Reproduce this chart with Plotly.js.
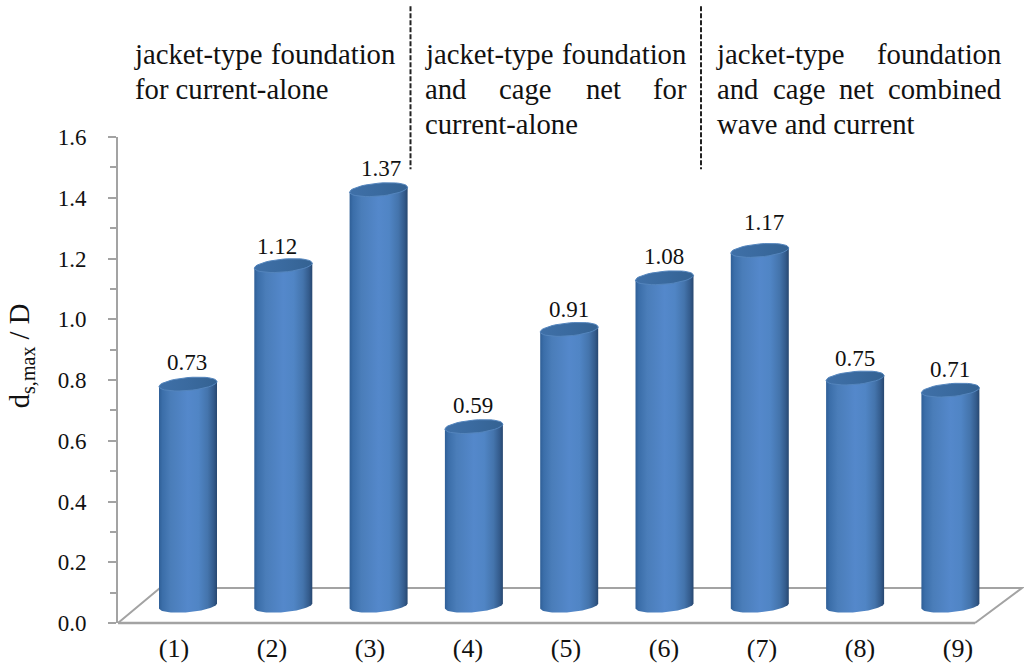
<!DOCTYPE html>
<html><head><meta charset="utf-8">
<script src="https://cdn.plot.ly/plotly-3.0.1.min.js"></script>
<style>html,body{margin:0;padding:0;background:#fff}</style></head>
<body><div id="chart" style="width:1024px;height:665px"></div>
<script>
const caseLabels = ["(1)","(2)","(3)","(4)","(5)","(6)","(7)","(8)","(9)"];
const depthRatio = [0.73,1.12,1.37,0.59,0.91,1.08,1.17,0.75,0.71];
const yTicks = [0,0.2,0.4,0.6,0.8,1.0,1.2,1.4,1.6];
const labelNudgeX = [-1,-6,2,-1,0,-1,4,0,0];
const labelNudgeY = [0,-2,0,0,-2,0,6,-2,-1];

const W=1024,H=665,L=118,R=1022,T=136.7,B=622.7;
const pxX=(B-T)/1.6;
const barStep=95.3, barX0=188, labelStep=98, labelX0=174, floorY=605.5;
const xr=[(L-barX0)/barStep,(R-barX0)/barStep];
const xr2=[(L-labelX0)/labelStep,(R-labelX0)/labelStep];
const y2low=-(B-floorY)/pxX;
const px=x=>(x-L)/(R-L), py=y=>(B-y)/(B-T);
const ids=caseLabels.map((_,i)=>i);

const a=29/barStep, b=6.5/pxX, tilt=2.5/pxX;
const N=40;
function arc(cx,cy,from,to){const xs=[],ys=[];
  for(let k=0;k<=N;k++){const t=from+(to-from)*k/N;
    xs.push(cx+a*Math.cos(t)); ys.push(cy+b*Math.sin(t)+tilt*Math.cos(t));}
  return [xs,ys];}

const bodyScale=[[0,'#2f5f97'],[0.06,'#3b6ea9'],[0.2,'#4a7db9'],[0.5,'#5488cb'],[0.68,'#5085c5'],[0.84,'#4474ac'],[0.94,'#345c8d'],[1,'#274770']];
const capScale=[[0,'#3f70a8'],[0.5,'#3a6a9f'],[1,'#346292']];

const traces=[{type:'bar',x:ids,y:depthRatio,xaxis:'x',yaxis:'y2',width:0.55,
  marker:{color:'#4a7db9',line:{width:0}},hoverinfo:'skip',showlegend:false}];
depthRatio.forEach((v,i)=>{
  const [bx,by]=arc(i,0,0,-Math.PI);
  traces.push({type:'scatter',mode:'lines',x:[i-a,i+a].concat(bx).concat([i-a]),
    y:[v-tilt,v+tilt].concat(by).concat([v-tilt]),xaxis:'x',yaxis:'y2',
    line:{width:0,color:'rgba(0,0,0,0)'},fill:'toself',
    fillgradient:{type:'horizontal',colorscale:bodyScale},
    hoverinfo:'skip',showlegend:false});
  const [cx,cy]=arc(i,v,0,2*Math.PI);
  traces.push({type:'scatter',mode:'lines',x:cx,y:cy,xaxis:'x',yaxis:'y2',
    line:{width:1,color:'#5485bd'},fill:'toself',
    fillgradient:{type:'horizontal',colorscale:capScale},
    hoverinfo:'skip',showlegend:false});
});
traces.push({type:'scatter',mode:'markers',x:ids,y:ids.map(()=>0),xaxis:'x2',yaxis:'y',
  marker:{opacity:0,size:1},hoverinfo:'skip',showlegend:false});

const F='"Liberation Serif","Times New Roman",serif', FC='#111';
function txt(text,x,base,anchor){return {text:text,xref:'paper',yref:'paper',x:px(x),y:py(base+7),
  xanchor:anchor||'left',yanchor:'bottom',showarrow:false,font:{family:F,size:28.7,color:FC},borderpad:0,borderwidth:0};}
const blockLines=[
  ["jacket-type",134,63,'left'],["foundation",395,63,'right'],["for current-alone",135,98,'left'],
  ["jacket-type",425,63,'left'],["foundation",685.5,63,'right'],
  ["and",425,98,'left'],["cage",499,98,'left'],["net",586,98,'left'],["for",686.5,98,'right'],
  ["current-alone",425,133,'left'],
  ["jacket-type",716,63,'left'],["foundation",1000.5,63,'right'],
  ["and",717,98,'left'],["cage",773,98,'left'],["net",839,98,'left'],["combined",1000.5,98,'right'],
  ["wave and current",717,133,'left']];
const annotations=blockLines.map(l=>txt(l[0],l[1],l[2],l[3]));
depthRatio.forEach((v,i)=>annotations.push({text:v.toFixed(2),xref:'x',yref:'y2',x:i,y:v,
  xanchor:'center',yanchor:'bottom',xshift:labelNudgeX[i],yshift:8+labelNudgeY[i],showarrow:false,font:{family:F,size:23,color:FC},borderpad:0}));
annotations.push({text:'d<sub>s,max</sub> / D',xref:'paper',yref:'paper',x:px(21),y:py(356),textangle:-90,
  xanchor:'center',yanchor:'middle',showarrow:false,font:{family:F,size:28.7,color:FC},borderpad:0});

const grey='#a3a3a3';
const shapes=[
 {type:'path',xref:'paper',yref:'paper',layer:'below',line:{color:grey,width:2},
  path:`M${px(118)},${py(622.7)} L${px(160)},${py(587.7)} L${px(1022)},${py(587.7)} L${px(975)},${py(622.7)}`},
 {type:'line',xref:'paper',yref:'paper',layer:'below',line:{color:grey,width:2.5},x0:px(118),x1:px(975),y0:0,y1:0},
 {type:'line',xref:'paper',yref:'paper',line:{color:'#222',width:2,dash:'5px,2px'},x0:px(410.5),x1:px(410.5),y0:py(6),y1:py(169)},
 {type:'line',xref:'paper',yref:'paper',line:{color:'#222',width:2,dash:'5px,2px'},x0:px(701),x1:px(701),y0:py(6),y1:py(169)}
];

const layout={width:W,height:H,margin:{l:L,r:W-R,t:T,b:H-B,pad:0},paper_bgcolor:'#fff',plot_bgcolor:'rgba(0,0,0,0)',
 showlegend:false,barmode:'overlay',font:{family:F,color:FC},
 xaxis:{range:xr,showticklabels:false,ticks:'',showgrid:false,zeroline:false,showline:false,anchor:'y2'},
 xaxis2:{range:xr2,overlaying:'x',side:'bottom',anchor:'y',tickmode:'array',tickvals:ids,ticktext:caseLabels,
   ticks:'',ticklen:0,showgrid:false,zeroline:false,showline:false,tickfont:{family:F,size:26,color:FC},ticklabelstandoff:7},
 yaxis:{range:[0,1.6],tickmode:'array',tickvals:yTicks,ticktext:yTicks.map(v=>v.toFixed(1)),ticks:'outside',ticklen:8,tickwidth:2,tickcolor:grey,
   showline:true,linecolor:grey,linewidth:2,showgrid:false,zeroline:false,tickfont:{family:F,size:23,color:FC},ticklabelstandoff:17,
   minor:{dtick:0.1,ticks:'outside',ticklen:6,tickwidth:2,tickcolor:grey,showgrid:false}},
 yaxis2:{range:[y2low,y2low+1.6],overlaying:'y',anchor:'x',visible:false,showgrid:false,zeroline:false},
 annotations:annotations,shapes:shapes};
Plotly.newPlot('chart',traces,layout,{displayModeBar:false,staticPlot:true});
</script></body></html>
